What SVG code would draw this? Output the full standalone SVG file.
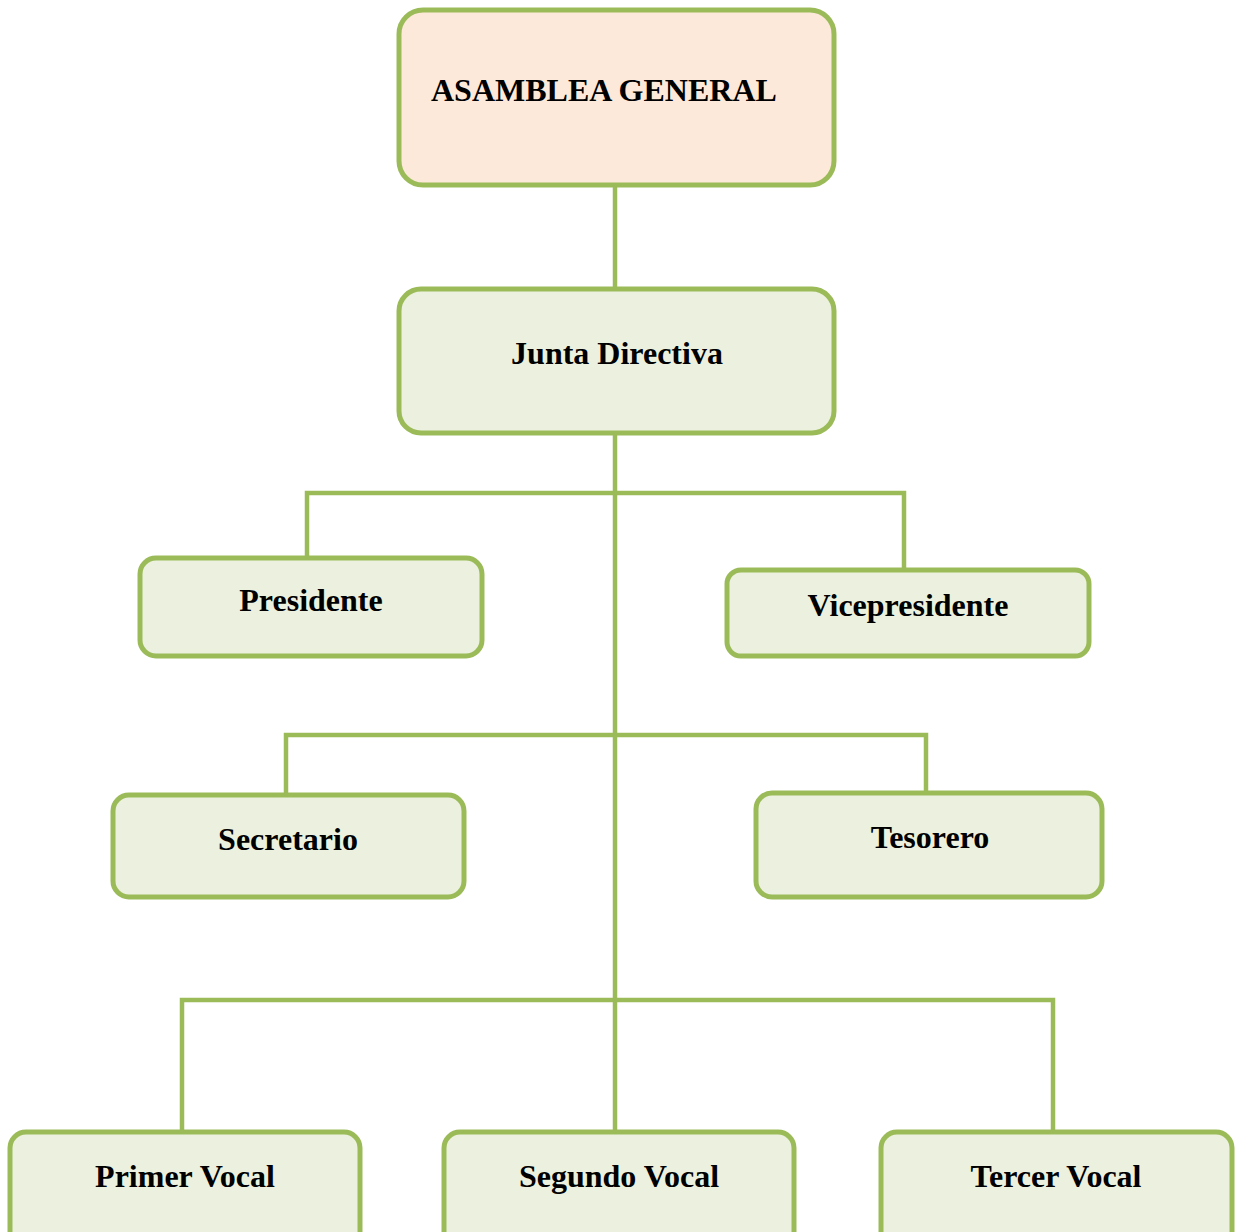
<svg xmlns="http://www.w3.org/2000/svg" width="1236" height="1232" viewBox="0 0 1236 1232">
<style>
.box{fill:#EBF1DE;stroke:#9BBB59;stroke-width:5}
.top{fill:#FDE9D9;stroke:#9BBB59;stroke-width:5}
.lbl{font-family:"Liberation Serif","Times New Roman",serif;font-weight:bold;font-size:32px;fill:#000}
.c{fill:none;stroke:#9BBB59;stroke-width:4.5}
</style>
<rect width="1236" height="1232" fill="#fff"/>
<g id="connectors">
<line class="c" x1="615" y1="185" x2="615" y2="289"/>
<line class="c" x1="615" y1="433" x2="615" y2="1132"/>
<polyline class="c" points="307,558 307,493 904,493 904,570"/>
<polyline class="c" points="286,795 286,735 926,735 926,793"/>
<polyline class="c" points="182,1132 182,1000 1053,1000 1053,1132"/>
</g>
<g id="asamblea">
<rect class="top" x="399" y="10" width="435" height="175" rx="24"/>
<text class="lbl" x="431" y="101">ASAMBLEA GENERAL</text>
</g>
<g id="junta">
<rect class="box" x="399" y="289" width="435" height="144" rx="22"/>
<text class="lbl" x="617" y="364" text-anchor="middle">Junta Directiva</text>
</g>
<g id="presidente">
<rect class="box" x="140" y="558" width="342" height="98" rx="16"/>
<text class="lbl" x="311" y="611" text-anchor="middle">Presidente</text>
</g>
<g id="vicepresidente">
<rect class="box" x="727" y="570" width="362" height="86" rx="14"/>
<text class="lbl" x="908" y="616" text-anchor="middle">Vicepresidente</text>
</g>
<g id="secretario">
<rect class="box" x="113" y="795" width="351" height="102" rx="16"/>
<text class="lbl" x="288" y="850" text-anchor="middle">Secretario</text>
</g>
<g id="tesorero">
<rect class="box" x="756" y="793" width="346" height="104" rx="16"/>
<text class="lbl" x="930" y="848" text-anchor="middle">Tesorero</text>
</g>
<g id="primer">
<rect class="box" x="10" y="1132" width="350" height="120" rx="16"/>
<text class="lbl" x="185" y="1187" text-anchor="middle">Primer Vocal</text>
</g>
<g id="segundo">
<rect class="box" x="444" y="1132" width="350" height="120" rx="16"/>
<text class="lbl" x="619" y="1187" text-anchor="middle">Segundo Vocal</text>
</g>
<g id="tercer">
<rect class="box" x="881" y="1132" width="351" height="120" rx="16"/>
<text class="lbl" x="1056" y="1187" text-anchor="middle">Tercer Vocal</text>
</g>
</svg>
